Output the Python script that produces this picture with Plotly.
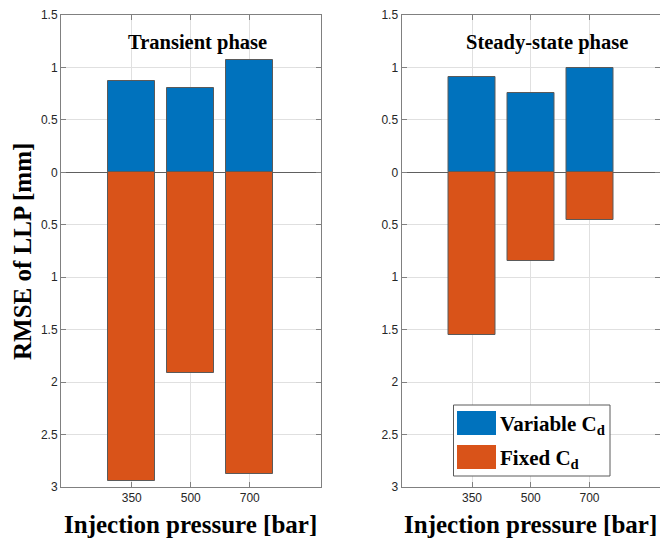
import plotly.graph_objects as go

# ---- data ----
pressures = ["350", "500", "700"]
positions = [1, 2, 3]
transient_variable = [0.87, 0.806, 1.068]
transient_fixed = [2.947, 1.916, 2.872]
steady_variable = [0.912, 0.754, 0.997]
steady_fixed = [1.555, 0.846, 0.452]
ytick_vals = [1.5, 1, 0.5, 0, -0.5, -1, -1.5, -2, -2.5, -3]
ytick_text = ["1.5", "1", "0.5", "0", "0.5", "1", "1.5", "2", "2.5", "3"]

BLUE = "#0072BD"
ORANGE = "#D95319"
EDGE = "#5a5a5a"
W, H = 660, 540

def px(x):
    return x / W

def py(y):
    return 1 - y / H

fig = go.Figure()

for (var, fix, xa, ya) in [
    (transient_variable, transient_fixed, "x", "y"),
    (steady_variable, steady_fixed, "x2", "y2"),
]:
    fig.add_trace(go.Bar(x=positions, y=var, width=0.8, xaxis=xa, yaxis=ya,
                         marker=dict(color=BLUE, line=dict(color=EDGE, width=1)),
                         name="Variable C<sub>d</sub>", showlegend=False))
    fig.add_trace(go.Bar(x=positions, y=[-v for v in fix], width=0.8, xaxis=xa, yaxis=ya,
                         marker=dict(color=ORANGE, line=dict(color=EDGE, width=1)),
                         name="Fixed C<sub>d</sub>", showlegend=False))

tickfont = dict(family="Liberation Sans, Arial, sans-serif", size=12, color="#262626")
axis_common = dict(
    showline=True, linecolor="#808080", linewidth=1, mirror="ticks",
    ticks="inside", ticklen=5, tickcolor="#808080",
    showgrid=True, gridcolor="#e0e0e0", gridwidth=1,
    tickfont=tickfont,
)

xdom1 = [px(61), px(320.5)]
xdom2 = [px(401.5), 1.0]
ydom = [py(487), py(15)]

fig.update_layout(
    width=W, height=H,
    margin=dict(l=0, r=0, t=0, b=0, autoexpand=False),
    plot_bgcolor="white", paper_bgcolor="white",
    barmode="relative",
    bargap=0,
    xaxis=dict(domain=xdom1, anchor="y", range=[-0.2, 4.2], tickvals=positions,
               ticktext=pressures, zeroline=False, **axis_common),
    yaxis=dict(domain=ydom, anchor="x", range=[-3, 1.5], tickvals=ytick_vals,
               ticktext=ytick_text, zeroline=True, zerolinecolor="#606060",
               zerolinewidth=1, **axis_common),
    xaxis2=dict(domain=xdom2, anchor="y2", range=[-0.2, 4.2], tickvals=positions,
                ticktext=pressures, zeroline=False, **axis_common),
    yaxis2=dict(domain=ydom, anchor="x2", range=[-3, 1.5], tickvals=ytick_vals,
                ticktext=ytick_text, zeroline=True, zerolinecolor="#606060",
                zerolinewidth=1, **axis_common),
)

serif = "Liberation Serif, Times New Roman, serif"
ann = []
ann.append(dict(text="<b>Transient phase</b>", xref="x", yref="y", x=2.12, y=1.235,
                showarrow=False, font=dict(family=serif, size=20.5, color="black"),
                xanchor="center", yanchor="middle"))
ann.append(dict(text="<b>Steady-state phase</b>", xref="x2", yref="y2", x=2.28, y=1.235,
                showarrow=False, font=dict(family=serif, size=20.5, color="black"),
                xanchor="center", yanchor="middle"))
ann.append(dict(text="<b>Injection pressure [bar]</b>", xref="paper", yref="paper",
                x=px(190.5), y=py(524), showarrow=False,
                font=dict(family=serif, size=25, color="black"),
                xanchor="center", yanchor="middle"))
ann.append(dict(text="<b>Injection pressure [bar]</b>", xref="paper", yref="paper",
                x=px(530.5), y=py(524), showarrow=False,
                font=dict(family=serif, size=25, color="black"),
                xanchor="center", yanchor="middle"))
ann.append(dict(text="<b>RMSE of LLP [mm]</b>", xref="paper", yref="paper",
                x=px(22), y=py(252), showarrow=False, textangle=-90,
                font=dict(family=serif, size=25, color="black"),
                xanchor="center", yanchor="middle"))

# custom legend
shapes = [
    dict(type="rect", xref="paper", yref="paper", x0=px(453.5), x1=px(610), y0=py(476), y1=py(405),
         fillcolor="white", line=dict(color="#5a5a5a", width=1), layer="above"),
    dict(type="rect", xref="paper", yref="paper", x0=px(457), x1=px(496), y0=py(435), y1=py(411),
         fillcolor=BLUE, line=dict(width=0), layer="above"),
    dict(type="rect", xref="paper", yref="paper", x0=px(457), x1=px(496), y0=py(469), y1=py(445),
         fillcolor=ORANGE, line=dict(width=0), layer="above"),
]
ann.append(dict(text="<b>Variable C<sub>d</sub></b>", xref="paper", yref="paper",
                x=px(498), y=py(425), showarrow=False,
                font=dict(family=serif, size=21, color="black"),
                xanchor="left", yanchor="middle"))
ann.append(dict(text="<b>Fixed C<sub>d</sub></b>", xref="paper", yref="paper",
                x=px(498), y=py(459), showarrow=False,
                font=dict(family=serif, size=21, color="black"),
                xanchor="left", yanchor="middle"))

fig.update_layout(annotations=ann, shapes=shapes)
fig.write_html("out.html", config={"displayModeBar": False},
               post_script="document.body.style.margin='0';document.body.style.overflow='hidden';")
